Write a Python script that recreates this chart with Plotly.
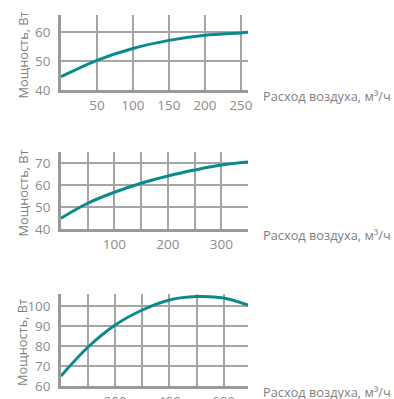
import plotly.graph_objects as go

# Chart 1
flow1 = [0, 50, 100, 150, 200, 250, 260]
power1 = [44.6, 50.3, 54.4, 57.2, 59.0, 59.8, 60.0]
xticks1 = [50, 100, 150, 200, 250]
xtext1 = ["50", "100", "150", "200", "250"]
yticks1 = [40, 50, 60]

# Chart 2
flow2 = [0, 50, 100, 150, 200, 250, 300, 350]
power2 = [44.9, 51.7, 56.7, 60.8, 64.1, 66.8, 69.1, 70.5]
xticks2 = [50, 100, 150, 200, 250, 300]
xtext2 = ["", "100", "", "200", "", "300"]
yticks2 = [40, 50, 60, 70]

# Chart 3
flow3 = [0, 100, 200, 300, 400, 500, 600, 690]
power3 = [65.0, 79.5, 90.5, 98.0, 103.0, 104.7, 104.0, 100.5]
xticks3 = [100, 200, 300, 400, 500, 600]
xtext3 = ["", "200", "", "400", "", "600"]
yticks3 = [60, 70, 80, 90, 100]

x_title = "Расход воздуха, м³/ч"
y_title = "Мощность, Вт"

W, H = 394, 399
TEAL = "#0b8a8c"
GRID = "#a6a6a6"
AXIS = "#999999"
TICK = "#8c8c8c"
FONT = "Open Sans"

fig = go.Figure()
charts = [
    (flow1, power1, xticks1, xtext1, yticks1, [0, 260], [40, 66], (15, 90)),
    (flow2, power2, xticks2, xtext2, yticks2, [0, 350], [40, 75], (152, 229)),
    (flow3, power3, xticks3, xtext3, yticks3, [0, 690], [60, 106], (294, 386)),
]
x0, x1 = 61, 248
for i, (fx, py, xt, xtt, yt, xr, yr, (top, bot)) in enumerate(charts):
    n = "" if i == 0 else str(i + 1)
    fig.add_trace(go.Scatter(x=fx, y=py, mode="lines", line=dict(color=TEAL, width=3, shape="spline", smoothing=1.0),
                             xaxis="x" + n, yaxis="y" + n, hoverinfo="skip", showlegend=False))
    common = dict(showline=True, linecolor=AXIS, linewidth=2.5, showgrid=True, gridcolor=GRID, gridwidth=1.5,
                  zeroline=False, ticks="", tickfont=dict(family=FONT, size=13.5, color=TICK), fixedrange=True,
                  automargin=False)
    fig.update_layout(**{
        "xaxis" + n: dict(common, domain=[x0 / W, x1 / W], range=xr, tickmode="array", tickvals=xt, ticktext=xtt,
                          anchor="y" + n, ticklabelstandoff=1),
        "yaxis" + n: dict(common, domain=[1 - bot / H, 1 - top / H], range=yr, tickmode="array", tickvals=yt,
                          anchor="x" + n, ticklabelstandoff=5),
    })
    fig.add_annotation(x=261 / W, y=1 - (bot + 6) / H, xref="paper", yref="paper", text=x_title, showarrow=False,
                       xanchor="left", yanchor="middle", font=dict(family=FONT, size=12.8, color="#7f7f7f"))
    fig.add_annotation(x=22 / W, y=1 - ((top + bot) / 2 + 3) / H, xref="paper", yref="paper", text=y_title,
                       showarrow=False, textangle=-90, xanchor="center", yanchor="middle",
                       font=dict(family=FONT, size=12.8, color="#7f7f7f"))

fig.update_layout(width=W, height=H, margin=dict(l=0, r=0, t=0, b=0, autoexpand=False),
                  paper_bgcolor="white", plot_bgcolor="white")
fig.write_html(
    "out.html",
    config={"displayModeBar": False},
    post_script="document.body.style.margin='0';document.body.style.overflow='hidden';"
                "var d=document.getElementById('{plot_id}');d.style.position='fixed';d.style.top='0';d.style.left='0';",
)
